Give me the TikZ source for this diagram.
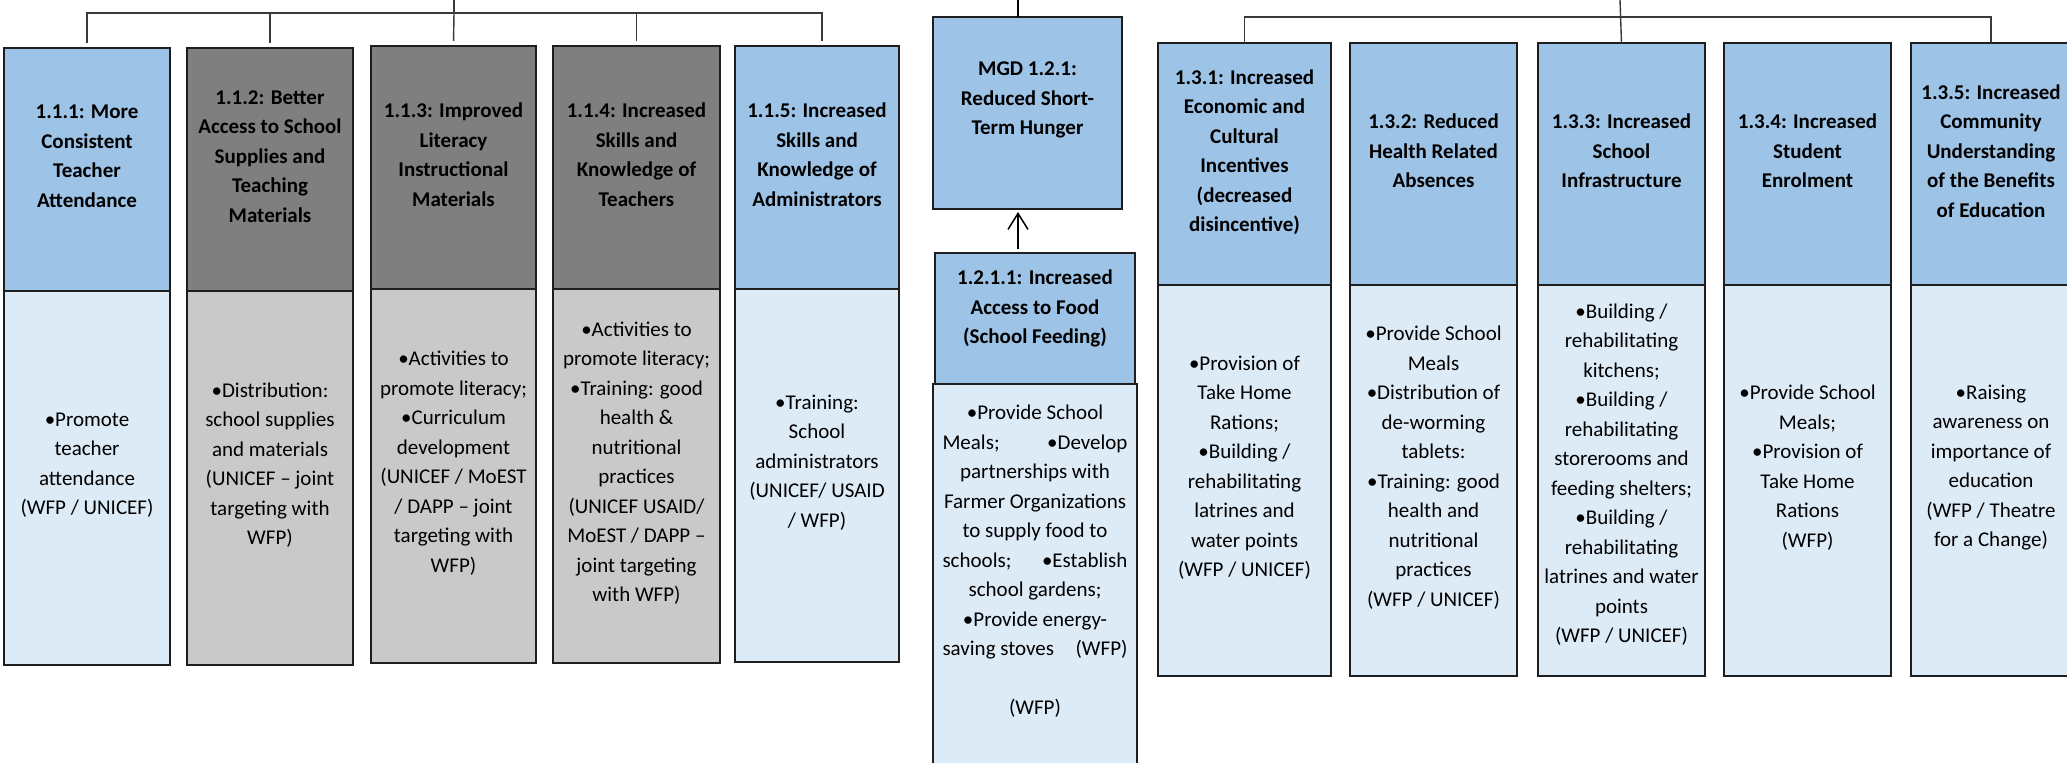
\documentclass[tikz,border=0pt]{standalone}
\usepackage{fontspec}
\setmainfont{Carlito}
\usetikzlibrary{arrows.meta}
\definecolor{blueH}{HTML}{9DC3E6}
\definecolor{blueB}{HTML}{DDEBF7}
\definecolor{greyH}{HTML}{7F7F7F}
\definecolor{greyB}{HTML}{C9C9C9}
\definecolor{edge}{HTML}{1E1E1E}
\definecolor{lineC}{HTML}{3A3A3A}
\begin{document}
\begin{tikzpicture}[x=1pt,y=-1pt,
  box/.style={draw=edge, line width=1.6pt, rectangle, anchor=north west, inner sep=0pt, outer sep=0pt},
  hblue/.style={box, fill=blueH},
  bblue/.style={box, fill=blueB},
  hgrey/.style={box, fill=greyH},
  bgrey/.style={box, fill=greyB},
  txt/.style={align=center, font=\fontsize{21}{29.5}\selectfont, inner sep=0pt, text=black},
  htxt/.style={align=center, font=\fontsize{21}{29.5}\selectfont\bfseries, inner sep=0pt, text=black},
  conn/.style={draw=lineC, line width=1.4pt},
  stem/.style={draw=black, line width=2.6pt},
  up/.style={draw=black, line width=1.5pt, -{Straight Barb[length=16pt,width=20pt,line width=1.5pt]}}
]
\useasboundingbox (0,0) rectangle (2067,763);
\clip (0,0) rectangle (2067,763);

% ---------------- left group ----------------
\node[hblue, minimum width=166pt, minimum height=243pt] (h1) at (4,48) {};
\node[bblue, minimum width=166pt, minimum height=374pt] (b1) at (4,291) {};
\node[hgrey, minimum width=166pt, minimum height=243pt] (h2) at (187,48) {};
\node[bgrey, minimum width=166pt, minimum height=374pt] (b2) at (187,291) {};
\node[hgrey, minimum width=165pt, minimum height=243pt] (h3) at (371,46) {};
\node[bgrey, minimum width=165pt, minimum height=374pt] (b3) at (371,289) {};
\node[hgrey, minimum width=167pt, minimum height=243pt] (h4) at (553,46) {};
\node[bgrey, minimum width=167pt, minimum height=374pt] (b4) at (553,289) {};
\node[hblue, minimum width=164pt, minimum height=243pt] (h5) at (735,46) {};
\node[bblue, minimum width=164pt, minimum height=373pt] (b5) at (735,289) {};

\node[htxt, yshift=13pt] (t1) at (h1.center) {1.1.1: More\\Consistent\\Teacher\\Attendance};
\node[txt, yshift=13pt] (u1) at (b1.center) {•Promote\\teacher\\attendance\\(WFP / UNICEF)};
\node[htxt, yshift=13pt] (t2) at (h2.center) {1.1.2: Better\\Access to School\\Supplies and\\Teaching\\Materials};
\node[txt, yshift=13pt] (u2) at (b2.center) {•Distribution:\\school supplies\\and materials\\(UNICEF – joint\\targeting with\\WFP)};
\node[htxt, yshift=13pt] (t3) at (h3.center) {1.1.3: Improved\\Literacy\\Instructional\\Materials};
\node[txt, yshift=13pt] (u3) at (b3.center) {•Activities to\\promote literacy;\\•Curriculum\\development\\(UNICEF / MoEST\\/ DAPP – joint\\targeting with\\WFP)};
\node[htxt, yshift=13pt] (t4) at (h4.center) {1.1.4: Increased\\Skills and\\Knowledge of\\Teachers};
\node[txt, yshift=13pt] (u4) at (b4.center) {•Activities to\\promote literacy;\\•Training: good\\health \&\\nutritional\\practices\\(UNICEF USAID/\\MoEST / DAPP –\\joint targeting\\with WFP)};
\node[htxt, yshift=13pt] (t5) at (h5.center) {1.1.5: Increased\\Skills and\\Knowledge of\\Administrators};
\node[txt, yshift=13pt] (u5) at (b5.center) {•Training:\\School\\administrators\\(UNICEF/ USAID\\/ WFP)};

\coordinate (stemL) at (454,0);
\coordinate (jL) at (454,13);
\draw[conn] (stemL) -- (jL);
\draw[conn, shorten >=5pt] (jL) -| (h1.north);
\draw[conn, shorten >=5pt] (jL) -| (h2.north);
\draw[conn, shorten >=5pt] (jL) -- (h3.north);
\draw[conn, shorten >=5pt] (jL) -| (h4.north);
\draw[conn, shorten >=5pt] (jL) -| ([xshift=5pt]h5.north);

% ---------------- middle ----------------
\node[hblue, minimum width=189pt, minimum height=192pt] (mgd) at (933,17) {};
\node[hblue, minimum width=200pt, minimum height=131pt] (h121) at (935,253) {};
\node[bblue, minimum width=204pt, minimum height=400pt] (b121) at (933,384) {};
\node[htxt, yshift=13pt] (tm) at (mgd.center) {MGD 1.2.1:\\Reduced Short-\\Term Hunger};
\node[htxt, yshift=10pt] (t121) at (h121.center) {1.2.1.1: Increased\\Access to Food\\(School Feeding)};
\node[txt, anchor=north] (u121) at (1035,405) {•Provide School\\\makebox[185pt]{Meals;\hfill•Develop}\\partnerships with\\Farmer Organizations\\to supply food to\\\makebox[185pt]{schools;\hfill•Establish}\\school gardens;\\•Provide energy-\\\makebox[185pt]{saving stoves\hfill(WFP)}\\~\\(WFP)};

\coordinate (stemM) at (1018,0);
\draw[stem] (stemM) -- (stemM |- mgd.north);
\draw[up, shorten <=4pt, shorten >=3pt] (stemM |- h121.north) -- (stemM |- mgd.south);

% ---------------- right group ----------------
\node[hblue, minimum width=173pt, minimum height=242pt] (h131) at (1158,43) {};
\node[bblue, minimum width=173pt, minimum height=391pt] (b131) at (1158,285) {};
\node[hblue, minimum width=167pt, minimum height=242pt] (h132) at (1350,43) {};
\node[bblue, minimum width=167pt, minimum height=391pt] (b132) at (1350,285) {};
\node[hblue, minimum width=167pt, minimum height=242pt] (h133) at (1538,43) {};
\node[bblue, minimum width=167pt, minimum height=391pt] (b133) at (1538,285) {};
\node[hblue, minimum width=167pt, minimum height=242pt] (h134) at (1724,43) {};
\node[bblue, minimum width=167pt, minimum height=391pt] (b134) at (1724,285) {};
\node[hblue, minimum width=160pt, minimum height=242pt] (h135) at (1911,43) {};
\node[bblue, minimum width=160pt, minimum height=391pt] (b135) at (1911,285) {};

\node[htxt, yshift=12pt] (t131) at (h131.center) {1.3.1: Increased\\Economic and\\Cultural\\Incentives\\(decreased\\disincentive)};
\node[txt, yshift=13pt] (u131) at (b131.center) {•Provision of\\Take Home\\Rations;\\•Building /\\rehabilitating\\latrines and\\water points\\(WFP / UNICEF)};
\node[htxt, yshift=13pt] (t132) at (h132.center) {1.3.2: Reduced\\Health Related\\Absences};
\node[txt, yshift=13pt] (u132) at (b132.center) {•Provide School\\Meals\\•Distribution of\\de-worming\\tablets:\\•Training: good\\health and\\nutritional\\practices\\(WFP / UNICEF)};
\node[htxt, yshift=13pt] (t133) at (h133.center) {1.3.3: Increased\\School\\Infrastructure};
\node[txt, yshift=6pt] (u133) at (b133.center) {•Building /\\rehabilitating\\kitchens;\\•Building /\\rehabilitating\\storerooms and\\feeding shelters;\\•Building /\\rehabilitating\\latrines and water\\points\\(WFP / UNICEF)};
\node[htxt, yshift=13pt] (t134) at (h134.center) {1.3.4: Increased\\Student\\Enrolment};
\node[txt, yshift=13pt] (u134) at (b134.center) {•Provide School\\Meals;\\•Provision of\\Take Home\\Rations\\(WFP)};
\node[htxt, yshift=13pt] (t135) at (h135.center) {1.3.5: Increased\\Community\\Understanding\\of the Benefits\\of Education};
\node[txt, yshift=13pt] (u135) at (b135.center) {•Raising\\awareness on\\importance of\\education\\(WFP / Theatre\\for a Change)};

\coordinate (stemR) at (1620,0);
\coordinate (jR) at (1620,17);
\draw[conn] (stemR) -- (h133.north);
\draw[conn] (jR) -| (h131.north);
\draw[conn] (jR) -| (h135.north);
\end{tikzpicture}
\end{document}
